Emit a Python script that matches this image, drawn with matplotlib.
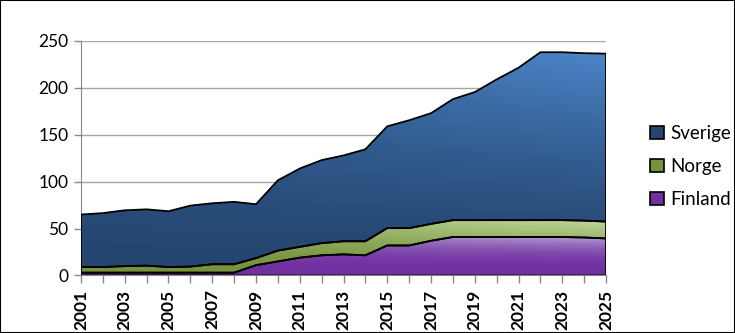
import matplotlib
matplotlib.use("Agg")
import matplotlib.pyplot as plt
import numpy as np
from matplotlib.colors import to_rgb
from matplotlib.patches import Patch, Rectangle

plt.rcParams["font.family"] = ["Lato", "DejaVu Sans"]

years = list(range(2001, 2026))
finland = [3, 3, 3, 3, 3, 3, 3, 3, 11, 15, 19, 21.5, 22.5, 21.5, 32, 32, 37,
           41, 41, 41, 41, 41, 41, 40.5, 39.5]
norge = [6, 6, 7, 7.5, 6, 6.5, 9, 9, 7.5, 11.5, 11.5, 13, 14, 15, 18.5, 18.5,
         18, 18, 18, 18, 18, 18, 18, 18, 18]
sverige = [56, 57.5, 59.5, 60, 59.5, 65, 65, 66.5, 57.5, 75, 83.5, 88.5, 91.5,
           98, 108.5, 115, 118, 129, 136.5, 150, 162.5, 179, 179, 178.5, 179]

series_names = ["Finland", "Norge", "Sverige"]
dark_colors = ["#7030a0", "#76923c", "#244670"]
light_colors = ["#bba6d8", "#c2d99c", "#4c85c9"]
y_ticks = [0, 50, 100, 150, 200, 250]


def gradient_area(ax, x, lower, upper, c_dark, c_light, power, xmix):
    poly = ax.fill_between(x, lower, upper, facecolor="none",
                           edgecolor="black", linewidth=1.3, zorder=4)
    gx = np.linspace(0, 1, 300)
    gy = np.linspace(0, 1, 300)
    X, Y = np.meshgrid(gx, gy)
    t = (Y ** power) * ((1 - xmix) + xmix * X)
    t = np.clip(t, 0, 1)[..., None]
    rgb = np.array(to_rgb(c_dark)) * (1 - t) + np.array(to_rgb(c_light)) * t
    y0, y1 = float(np.min(lower)), float(np.max(upper))
    img = ax.imshow(rgb, extent=[x[0], x[-1], y0, y1], origin="lower",
                    aspect="auto", zorder=3, interpolation="bilinear")
    img.set_clip_path(poly.get_paths()[0], transform=ax.transData)
    return poly


fig = plt.figure(figsize=(7.35, 3.33), dpi=100)
ax = fig.add_axes([0.1102, 0.1727, 0.7143, 0.7042])

x = np.array(years, dtype=float)
base = np.zeros(len(years))
params = [(2.5, 0.6), (1.5, 0.7), (1.4, 0.5)]
for vals, cd, cl, (pw, xm) in zip([finland, norge, sverige], dark_colors,
                                  light_colors, params):
    top = base + np.array(vals)
    gradient_area(ax, x, base, top, cd, cl, pw, xm)
    base = top

ax.set_xlim(2001, 2025)
ax.set_ylim(0, 250)
ax.set_yticks(y_ticks)
ax.set_xticks(years)
ax.set_xticklabels([str(y) if (y - 2001) % 2 == 0 else "" for y in years],
                   rotation=90, fontsize=12.5, fontweight="bold")
ax.tick_params(axis="y", labelsize=12.5, colors="#888888", length=5, width=1,
               labelcolor="black", pad=4)
ax.tick_params(axis="x", colors="#888888", length=6, width=1,
               labelcolor="black", pad=4)
ax.yaxis.grid(True, color="#a6a6a6", linewidth=1)
ax.set_axisbelow(True)
for side in ("top", "right"):
    ax.spines[side].set_visible(False)
for side in ("left", "bottom"):
    ax.spines[side].set_color("#888888")

handles = [Patch(facecolor=c, edgecolor="black", linewidth=1.2)
           for c in dark_colors]
handles = handles[::-1]
labels = series_names[::-1]
leg = fig.legend(handles, labels, loc="center left",
                 bbox_to_anchor=(0.862, 0.5), frameon=False, fontsize=13.5,
                 handlelength=0.7, handleheight=0.7, handletextpad=0.35,
                 labelspacing=0.85)

fig.patches.append(Rectangle((0, 0), 1, 1, transform=fig.transFigure,
                             fill=False, edgecolor="black", linewidth=1.5))

fig.savefig("out.png", dpi=100)
